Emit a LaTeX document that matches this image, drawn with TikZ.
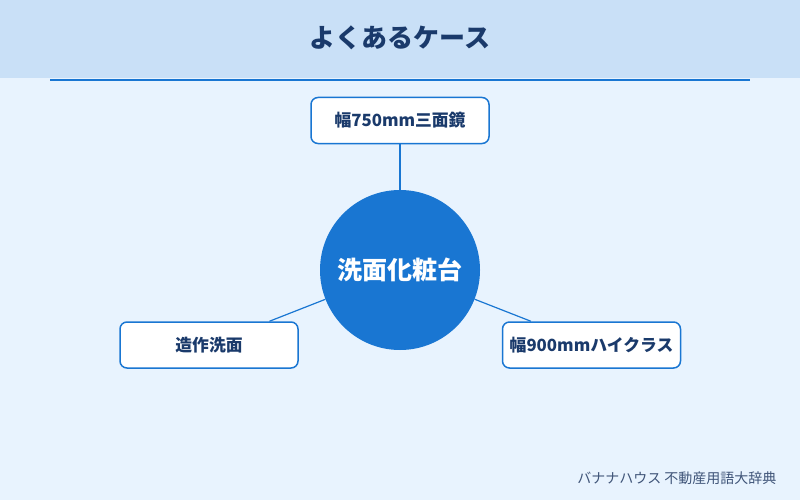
\documentclass[tikz,border=0pt]{standalone}
\usepackage{fontspec}
\setmainfont{Noto Sans CJK JP}
\newfontfamily\jpbold[BoldFont={Noto Sans CJK JP Bold}]{Noto Sans CJK JP}
\usetikzlibrary{positioning}
\definecolor{pagebg}{HTML}{E8F3FE}
\definecolor{headbg}{HTML}{C9E0F7}
\definecolor{mainblue}{HTML}{1976D2}
\definecolor{navy}{HTML}{1A3A6B}
\definecolor{footgray}{HTML}{3F5478}
\begin{document}
\begin{tikzpicture}[x=1pt, y=-1pt]
                \tikzset{ block/.style={rectangle,draw=mainblue,line width=1.5pt,fill=white,rounded corners=7pt,minimum width=178pt,minimum height=46pt,align=center,text=navy,font=\fontsize{16.8}{19}\selectfont\bfseries},
                        hub/.style={circle,fill=mainblue,minimum size=160pt,inner sep=0pt,text=white,font=\fontsize{25}{28}\selectfont\bfseries},
                        link/.style={draw=mainblue, line width=1.2pt}}
                % fond
                \fill[pagebg] (0,0) rectangle (800,500);
                \fill[headbg] (0,0) rectangle (800,78);
                \useasboundingbox (0,0) rectangle (800,500);
                \node[text=navy, font=\fontsize{26}{30}\selectfont\bfseries] (title) at (400,38) {よくあるケース};
                \draw[mainblue, line width=2pt] (50,80) -- (750,80);

                \node[hub] (sink) at (400,270) {洗面化粧台};
                \node[block] (mirror) at (400,120.5) {幅750mm三面鏡};
                \node[block] (custom) at (209,345) {造作洗面};
                \node[block] (high) at (591.5,345) {幅900mmハイクラス};

                % liens
                \draw[link] (mirror) -- (sink);
                \draw[link] (custom) -- (sink);
                \draw[link] (high) -- (sink);

                \node[anchor=east, text=footgray, font=\fontsize{14}{16}\selectfont] (credit) at (780,478) {バナナハウス 不動産用語大辞典};
            \end{tikzpicture}
\end{document}
